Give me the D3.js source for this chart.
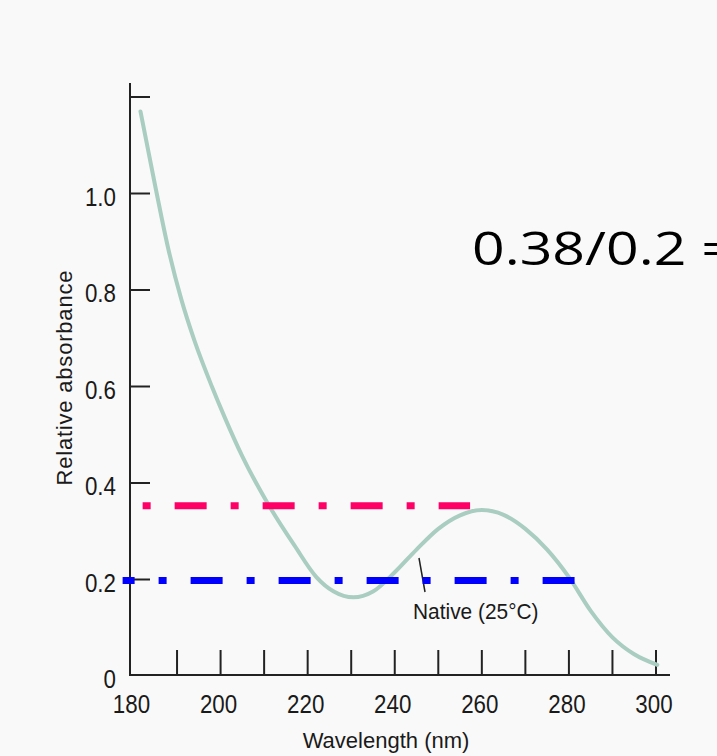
<!DOCTYPE html>
<html lang="en">
<head>
  <meta charset="utf-8">
  <title>Relative absorbance</title>
  <script src="https://cdn.jsdelivr.net/npm/d3@7"></script>
  <style>
    body { margin: 0; background: #f9f9f9; }
    .tickLabel { font-family: "Liberation Sans", Arial, sans-serif; font-size: 26px; fill: #1a1a1a; }
    .axisTitle { font-family: "Liberation Sans", Arial, sans-serif; font-size: 22px; fill: #1a1a1a; }
    .note { font-family: "Liberation Sans", Arial, sans-serif; font-size: 22px; fill: #1a1a1a; }
    .bigText { font-family: "Open Sans", sans-serif; font-size: 45px; fill: #000; }
  </style>
</head>
<body>
  <script>
    // curve
    const wavelength = [181.6, 185, 188, 191, 194, 198, 201, 205, 211, 217, 222, 226, 230.5,
      235, 240, 245, 250, 255, 260, 265, 270, 275, 280, 285, 290, 295, 300.3];
    const absorbance = [1.17, 1.015, 0.885, 0.78, 0.695, 0.60, 0.535, 0.455, 0.355, 0.27, 0.205, 0.175, 0.163,
      0.175, 0.215, 0.262, 0.305, 0.333, 0.344, 0.334, 0.305, 0.262, 0.205, 0.135, 0.08, 0.045, 0.023];

    // axis ticks
    const xTicks = [190, 200, 210, 220, 230, 240, 250, 260, 270, 280, 290, 300];
    const xLabels = [180, 200, 220, 240, 260, 280, 300];
    const yTicks = [0.2, 0.4, 0.6, 0.8, 1.0, 1.2];
    const yLabels = [0, 0.2, 0.4, 0.6, 0.8, 1.0];

    // dash-dot reference lines
    const refValue = [0.353, 0.198];
    const refFrom = [182.1, 177.5];
    const refTo = [257.3, 281.3];

    const width = 717, height = 756;

    const svg = d3.select("body").append("svg")
      .attr("width", width).attr("height", height);

    const x = d3.scaleLinear().domain([180, 300]).range([133.5, 656]);
    const y = d3.scaleLinear().domain([0, 1.2]).range([676, 97]);

    // axes
    svg.append("line")
      .attr("x1", 130).attr("x2", 130).attr("y1", 83).attr("y2", 676)
      .attr("stroke", "#222").attr("stroke-width", 2);
    svg.append("line")
      .attr("x1", 129).attr("x2", 670).attr("y1", 675).attr("y2", 675)
      .attr("stroke", "#222").attr("stroke-width", 2);

    svg.selectAll("line.yTick").data(yTicks).join("line").attr("class", "yTick")
      .attr("x1", 130).attr("x2", 150)
      .attr("y1", d => y(d)).attr("y2", d => y(d))
      .attr("stroke", "#222").attr("stroke-width", 2);
    svg.selectAll("line.xTick").data(xTicks).join("line").attr("class", "xTick")
      .attr("x1", d => x(d)).attr("x2", d => x(d))
      .attr("y1", 650).attr("y2", 675)
      .attr("stroke", "#222").attr("stroke-width", 2);

    // narrow, tall tick figures like the scanned figure
    svg.selectAll("text.yLab").data(yLabels).join("text").attr("class", "tickLabel yLab")
      .attr("transform", d => `translate(116,${y(d) + 12}) scale(0.86,1)`)
      .attr("text-anchor", "end")
      .text(d => d === 0 ? "0" : d3.format(".1f")(d));
    svg.selectAll("text.xLab").data(xLabels).join("text").attr("class", "tickLabel xLab")
      .attr("transform", d => `translate(${x(d) - 2},713) scale(0.86,1)`)
      .attr("text-anchor", "middle")
      .text(d => d);

    svg.append("text").attr("class", "axisTitle")
      .attr("x", 386).attr("y", 748).attr("text-anchor", "middle")
      .text("Wavelength (nm)");
    svg.append("text").attr("class", "axisTitle")
      .attr("transform", "translate(72,378) rotate(-90)")
      .attr("text-anchor", "middle")
      .attr("textLength", 215).attr("lengthAdjust", "spacing")
      .text("Relative absorbance");

    // the curve
    const pts = wavelength.map((w, i) => [w, absorbance[i]]);
    svg.append("path")
      .datum(pts)
      .attr("fill", "none")
      .attr("stroke", "#a9cdc1")
      .attr("stroke-width", 4)
      .attr("stroke-linecap", "round")
      .attr("d", d3.line().x(d => x(d[0])).y(d => y(d[1])).curve(d3.curveMonotoneX));

    // label and leader
    svg.append("line")
      .attr("x1", 419).attr("y1", 558).attr("x2", 425).attr("y2", 592)
      .attr("stroke", "#222").attr("stroke-width", 1.5);
    svg.append("text").attr("class", "note")
      .attr("transform", "translate(413,619) scale(0.95,1)")
      .text("Native (25°C)");

    // dash-dot lines
    const refColor = ["#ff0066", "#0000ff"];
    const refDash = ["8,24,32,24", "32,24,8,24"];
    const refOffset = [0, 20];
    svg.selectAll("line.ref").data(refValue).join("line").attr("class", "ref")
      .attr("x1", (d, i) => x(refFrom[i])).attr("x2", (d, i) => x(refTo[i]))
      .attr("y1", d => y(d)).attr("y2", d => y(d))
      .attr("stroke", (d, i) => refColor[i])
      .attr("stroke-width", 7)
      .attr("stroke-dasharray", (d, i) => refDash[i])
      .attr("stroke-dashoffset", (d, i) => refOffset[i]);

    // slide text
    svg.append("text").attr("class", "bigText")
      .attr("transform", "translate(472,265) scale(1.27,1)")
      .text("0.38/0.2 =");
  </script>
</body>
</html>
